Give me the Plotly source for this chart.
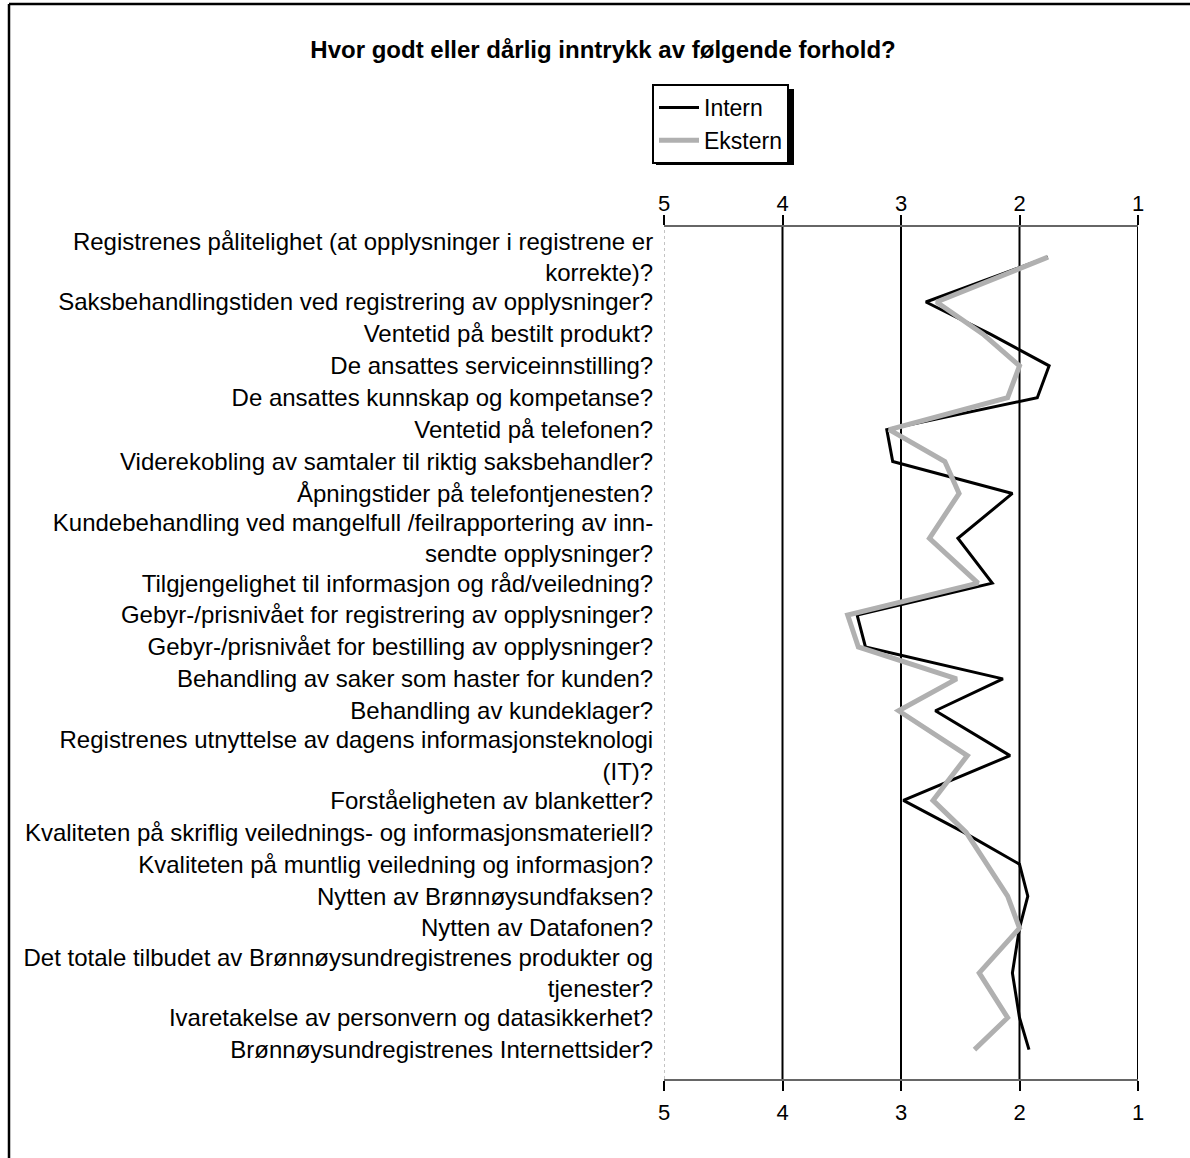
import plotly.graph_objects as go

# ---------------- data ----------------
categories = [
    "Registrenes pålitelighet (at opplysninger i registrene er<br>korrekte)?",
    "Saksbehandlingstiden ved registrering av opplysninger?",
    "Ventetid på bestilt produkt?",
    "De ansattes serviceinnstilling?",
    "De ansattes kunnskap og kompetanse?",
    "Ventetid på telefonen?",
    "Viderekobling av samtaler til riktig saksbehandler?",
    "Åpningstider på telefontjenesten?",
    "Kundebehandling ved mangelfull /feilrapportering av inn-<br>sendte opplysninger?",
    "Tilgjengelighet til informasjon og råd/veiledning?",
    "Gebyr-/prisnivået for registrering av opplysninger?",
    "Gebyr-/prisnivået for bestilling av opplysninger?",
    "Behandling av saker som haster for kunden?",
    "Behandling av kundeklager?",
    "Registrenes utnyttelse av dagens informasjonsteknologi<br>(IT)?",
    "Forståeligheten av blanketter?",
    "Kvaliteten på skriflig veilednings- og informasjonsmateriell?",
    "Kvaliteten på muntlig veiledning og informasjon?",
    "Nytten av Brønnøysundfaksen?",
    "Nytten av Datafonen?",
    "Det totale tilbudet av Brønnøysundregistrenes produkter og<br>tjenester?",
    "Ivaretakelse av personvern og datasikkerhet?",
    "Brønnøysundregistrenes Internettsider?",
]

intern = [1.76, 2.79, 2.25, 1.75, 1.85, 3.12, 3.07, 2.06, 2.52, 2.23, 3.37, 3.30,
          2.14, 2.71, 2.08, 2.98, 2.47, 2.00, 1.93, 2.00, 2.06, 2.00, 1.92]
ekstern = [1.76, 2.70, 2.31, 2.00, 2.10, 3.10, 2.63, 2.51, 2.76, 2.35, 3.45, 3.36,
           2.53, 3.02, 2.44, 2.73, 2.45, 2.27, 2.10, 2.00, 2.34, 2.10, 2.38]

score_ticks = [5, 4, 3, 2, 1]
title_text = "Hvor godt eller dårlig inntrykk av følgende forhold?"
series_names = ["Intern", "Ekstern"]

# ---------------- layout helpers ----------------
W, H = 1190, 1158
ML, MR, MT, MB = 664, 52, 227, 79
PW, PH = W - ML - MR, H - MT - MB


def px_x(p):
    return (p - ML) / PW


def px_y(p):
    return (H - MB - p) / PH


# category rows: multi-line labels get extra room
EXTRA = 0.81
heights = [1 + EXTRA * c.count("<br>") for c in categories]
ypos = []
acc = 0.0
for h in heights:
    ypos.append(acc + h / 2)
    acc += h
total = acc

FONT = "Liberation Sans, Arial, Helvetica, sans-serif"

fig = go.Figure()
fig.add_trace(go.Scatter(
    x=intern, y=ypos, mode="lines", name=series_names[0],
    line=dict(color="black", width=3), hoverinfo="skip"))
fig.add_trace(go.Scatter(
    x=ekstern, y=ypos, mode="lines", name=series_names[1],
    line=dict(color="#b0b0b0", width=5), hoverinfo="skip"))
# invisible trace to activate the top axis
fig.add_trace(go.Scatter(
    x=intern, y=ypos, xaxis="x2", mode="lines", showlegend=False,
    line=dict(color="rgba(0,0,0,0)", width=0), hoverinfo="skip"))

shapes = []
for v in score_ticks:
    shapes.append(dict(type="line", xref="x", yref="paper", x0=v, x1=v, y0=0, y1=1,
                       line=dict(color="#888" if v == 5 else "black",
                                 width=1 if v == 5 else 2,
                                 dash="dot" if v == 5 else "solid"),
                       layer="below"))
# outer frame (left and top)
shapes.append(dict(type="line", xref="paper", yref="paper",
                   x0=px_x(9), x1=px_x(9), y0=px_y(1170), y1=px_y(4),
                   line=dict(color="black", width=2.5)))
shapes.append(dict(type="line", xref="paper", yref="paper",
                   x0=px_x(9), x1=px_x(1195), y0=px_y(4), y1=px_y(4),
                   line=dict(color="black", width=2.5)))
# legend shadow
shapes.append(dict(type="rect", xref="paper", yref="paper",
                   x0=px_x(656), x1=px_x(794), y0=px_y(165), y1=px_y(89),
                   fillcolor="black", line=dict(width=0), layer="below"))

axis_common = dict(
    range=[5, 1], tickvals=score_ticks, ticktext=[str(v) for v in score_ticks],
    showgrid=False, zeroline=False, showline=True, linecolor="#666", linewidth=2,
    ticks="outside", ticklen=10, tickwidth=2, tickcolor="black",
    tickfont=dict(family=FONT, size=22, color="black"),
)

fig.update_layout(
    width=W, height=H,
    margin=dict(l=ML, r=MR, t=MT, b=MB, autoexpand=False),
    paper_bgcolor="white", plot_bgcolor="white",
    title=dict(text="<b>" + title_text + "</b>", x=603 / W, xanchor="center",
               y=1 - 50 / H, yanchor="middle",
               font=dict(family=FONT, size=24, color="black")),
    xaxis=dict(**axis_common, side="bottom", ticklabelstandoff=3),
    xaxis2=dict(**axis_common, side="top", overlaying="x", matches="x",
                ticklabelstandoff=-5),
    yaxis=dict(range=[total + 0.42, -0.04], tickvals=ypos, ticktext=categories,
               showgrid=False, zeroline=False, showline=False,
               ticks="outside", ticklen=5, tickcolor="rgba(0,0,0,0)",
               tickfont=dict(family=FONT, size=24, color="black")),
    legend=dict(x=px_x(652), y=px_y(84), xanchor="left", yanchor="top",
                bgcolor="white", bordercolor="black", borderwidth=2,
                font=dict(family=FONT, size=23, color="black"),
                itemwidth=40, tracegroupgap=0),
    shapes=shapes,
    showlegend=True,
)

fig.write_html("out.html", post_script="document.body.style.margin='0';",
               config={"displayModeBar": False})
